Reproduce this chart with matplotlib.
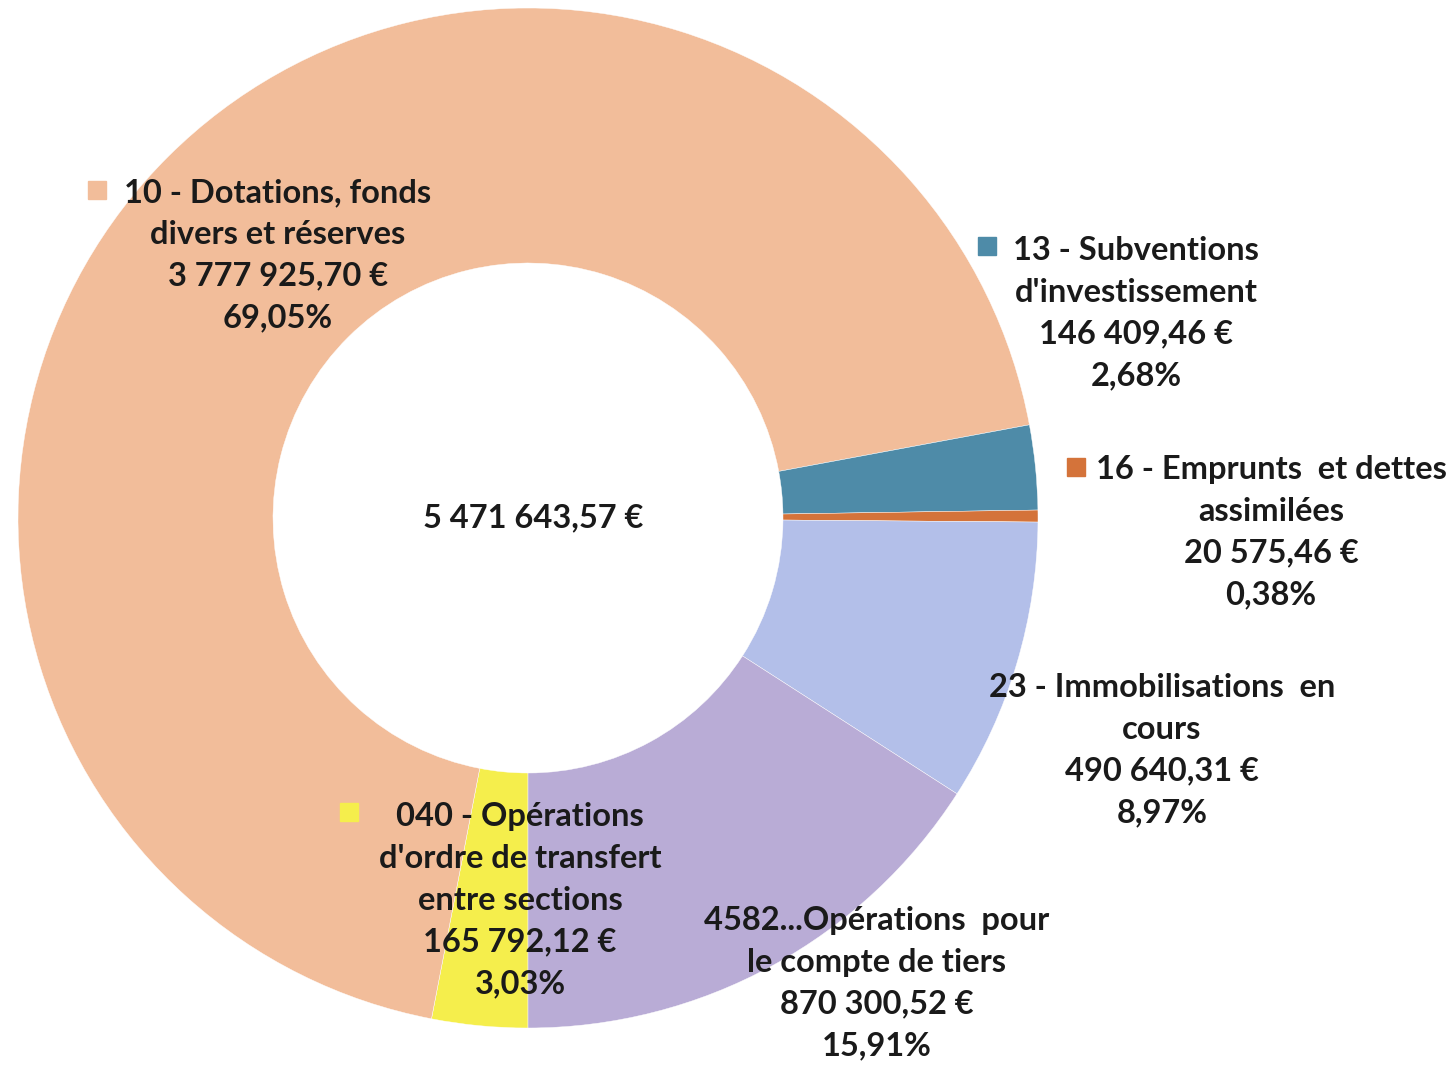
import matplotlib
matplotlib.use('Agg')
import matplotlib.pyplot as plt

plt.rcParams['font.family'] = ['Lato', 'DejaVu Sans']

# comptes, dans l'ordre horaire en partant du bas
codes = ['040', '10', '13', '16', '23', '4582']
names = ['040 - Opérations\nd\'ordre de transfert\nentre sections',
         '10 - Dotations, fonds\ndivers et réserves',
         '13 - Subventions\nd\'investissement',
         '16 - Emprunts  et dettes\nassimilées',
         '23 - Immobilisations  en\ncours',
         '4582...Opérations  pour\nle compte de tiers']
values = [165792.12, 3777925.70, 146409.46, 20575.46, 490640.31, 870300.52]
colors = ['#F5EE4C', '#F2BD9A', '#4E8BA8', '#D4733A', '#B3BFE9', '#B9ACD6']
total = sum(values)

# label block centres and legend-key positions (pixels, y from top)
label_pos = {'040': (520, 900), '10': (278, 255), '13': (1136, 313),
             '16': (1271, 532), '23': (1162, 750), '4582': (877, 983)}
key_pos = {'040': (349, 812), '10': (97, 190), '13': (987, 246),
           '16': (1076, 467), '23': (960, 685), '4582': (678, 918)}

W, H = 1450, 1067
fig = plt.figure(figsize=(14.5, 10.67), dpi=100)
ax = fig.add_axes([0, 0, 1, 1])
ax.pie(values, colors=colors, startangle=-90, counterclock=False,
       center=(528, H - 518), radius=510,
       wedgeprops=dict(width=255, edgecolor='white', linewidth=0.3))
ax.set_xlim(0, W)
ax.set_ylim(0, H)
ax.set_aspect('equal')
ax.axis('off')

def fmt_eur(v):
    s = f'{v:,.2f}'.replace(',', ' ').replace('.', ',')
    return s + ' €'

for code, name, v, c in zip(codes, names, values, colors):
    pct = f'{v / total * 100:.2f}'.replace('.', ',') + '%'
    x, y = label_pos[code]
    ax.text(x, H - y, f'{name}\n{fmt_eur(v)}\n{pct}', ha='center', va='center',
            fontsize=23.5, fontweight='bold', color='#1a1a1a', linespacing=1.53)
    kx, ky = key_pos[code]
    ax.plot(kx, H - ky, marker='s', markersize=13, color=c, linestyle='none')

ax.text(533, H - 518, fmt_eur(total), ha='center', va='center',
        fontsize=23.5, fontweight='bold', color='#1a1a1a')

fig.savefig('out.png', dpi=100)
